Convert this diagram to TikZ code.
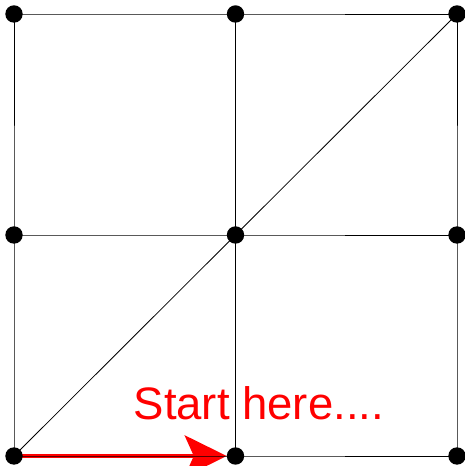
\documentclass[tikz,border=0pt]{standalone}
\usepackage{fontspec}
\setmainfont{Liberation Sans}
\usepackage{xcolor}
\usetikzlibrary{arrows.meta}

\begin{document}
\begin{tikzpicture}[x=1pt,y=1pt,
  dot/.style={circle,fill=black,inner sep=0pt,minimum size=17.4pt},
  edge/.style={line width=0.8pt},
  arr/.style={-{Stealth[length=42pt,width=41pt,inset=9pt]},red,line width=4.7pt}]
  \useasboundingbox (0,0) rectangle (464,466);
  %% grid vertices
  \foreach \i/\x in {0/14,1/235.5,2/457}
    \foreach \j/\y in {0/10,1/231,2/452}
      \coordinate (p-\i-\j) at (\x,\y);
  %% start arrow
  \draw[arr] (p-0-0) -- ([xshift=-8.7pt]p-1-0);
  %% grid edges
  \foreach \j in {0,1,2}
    \draw[edge] (p-0-\j) -- (p-1-\j) -- (p-2-\j);
  \foreach \i in {0,1,2}
    \draw[edge] (p-\i-0) -- (p-\i-1) -- (p-\i-2);
  % diagonal
  \draw[edge] (p-0-0) -- (p-1-1) -- (p-2-2);
  %% dots
  \foreach \i in {0,1,2}
    \foreach \j in {0,1,2}
      \node[dot] (v-\i-\j) at (p-\i-\j) {};
  \node[red,font=\fontsize{45.5}{50}\selectfont,inner sep=0pt,anchor=base west]
    (start) at (133.5,46) {Start here....};
\end{tikzpicture}
\end{document}
